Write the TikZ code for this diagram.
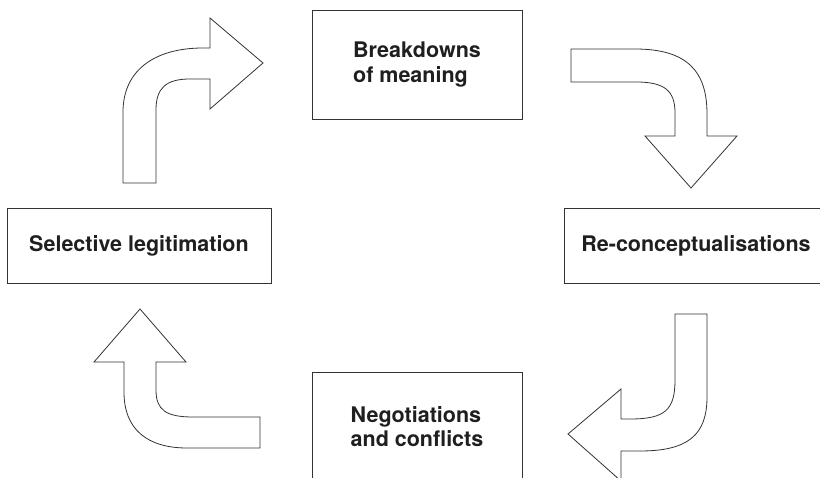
\documentclass[tikz,border=0pt]{standalone}
\usepackage{fontspec}
\setmainfont{TeX Gyre Heros}
\begin{document}
\begin{tikzpicture}[x=1pt,y=-1pt,
  stagebox/.style={draw=black!80,line width=0.8pt,fill=white,inner sep=0pt,
    font=\bfseries\fontsize{21.5}{24.5}\selectfont,text=black!88,align=left},
  bentarrow/.style={draw=black!80,line width=0.8pt,fill=white,line join=miter}]
\useasboundingbox (0,0) rectangle (820,478);
\clip (0,0) rectangle (820,478);

% the four stages of the cycle
\node[stagebox,minimum width=210pt,minimum height=109pt] (breakdowns) at (417,64.5)
  {Breakdowns\\of meaning};
\node[stagebox,minimum width=264pt,minimum height=75pt] (reconcept) at (696,246)
  {Re-conceptualisations};
\node[stagebox,minimum width=210pt,minimum height=109pt] (negotiations) at (417,426.5)
  {Negotiations\\and conflicts};
\node[stagebox,minimum width=264pt,minimum height=75pt] (legitimation) at (139,245.5)
  {Selective legitimation};

% bent block arrows between the stages
% up, then right towards the first stage
\draw[bentarrow] (123,183) -- (123,112)
  .. controls (123,70) and (155,48) .. (203,48) -- (210,48) -- (210,18)
  -- (263,63) -- (210,109) -- (210,79) -- (190,79)
  .. controls (166,79) and (156,88) .. (156,110) -- (156,183) -- cycle;
% right, then down
\draw[bentarrow] (571,49) -- (635,49)
  .. controls (688,49) and (707,72) .. (707,114) -- (707,136) -- (737,136)
  -- (691,188) -- (645,136) -- (675,136) -- (675,113)
  .. controls (675,91) and (665,82) .. (636,82) -- (571,82) -- cycle;
% down, then left
\draw[bentarrow] (675,314) -- (707,314) -- (707,397)
  .. controls (707,435) and (688,451) .. (640,451) -- (621,451) -- (621,481)
  -- (568,434) -- (621,389) -- (621,419) -- (630,419)
  .. controls (665,419) and (675,410) .. (675,380) -- cycle;
% left, then up
\draw[bentarrow] (260,417) -- (260,448) -- (187,448)
  .. controls (148,448) and (124,430) .. (124,392) -- (124,362) -- (94,362)
  -- (140,309) -- (186,362) -- (156,362) -- (156,390)
  .. controls (156,410) and (166,417) .. (193,417) -- cycle;
\end{tikzpicture}
\end{document}
